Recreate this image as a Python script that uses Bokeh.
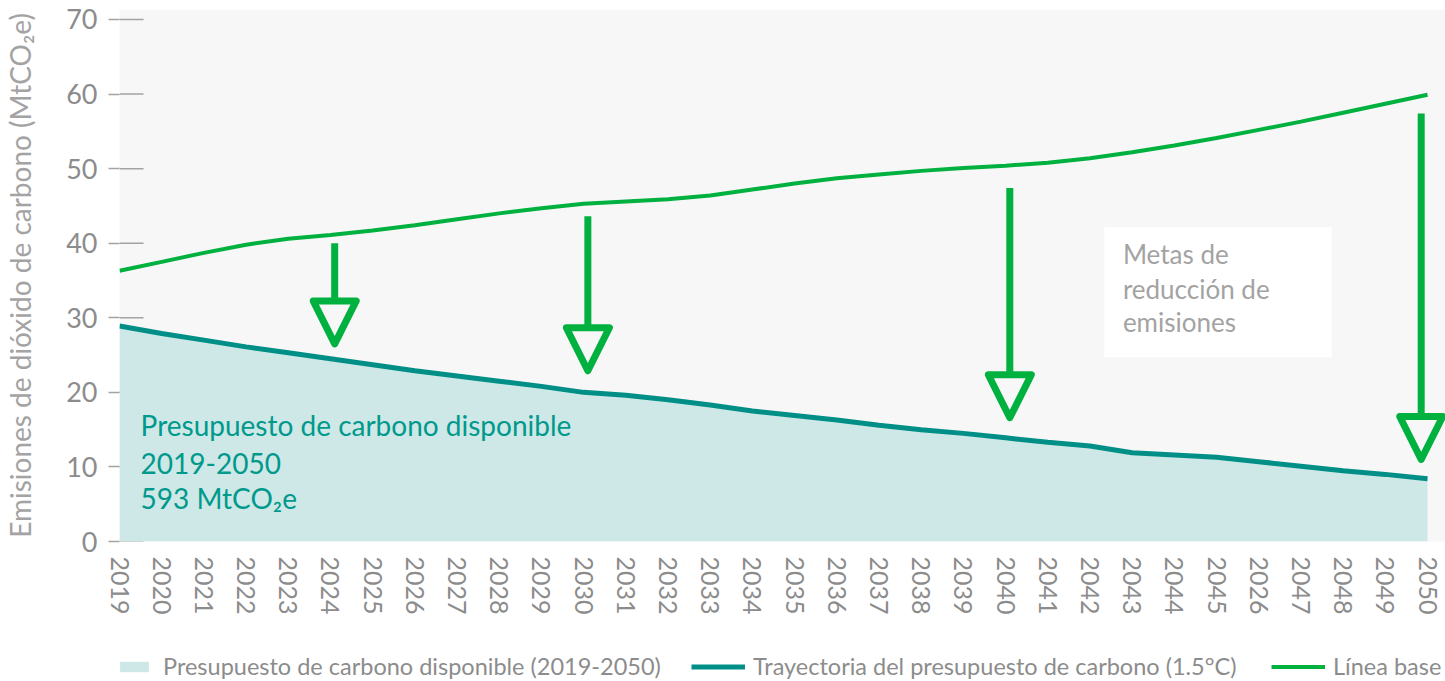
from bokeh.plotting import figure
from bokeh.layouts import column
from bokeh.models import (FixedTicker, Range1d, Legend, LegendItem, Label,
                          BoxAnnotation, Arrow, NormalHead)
from bokeh.embed import file_html
from bokeh.resources import INLINE

# ---------------- data ----------------
years = list(range(2019, 2051))
year_labels = [str(y) for y in years]
year_labels[years.index(2046)] = "2026"   # as printed in the original

linea_base = [36.3, 37.5, 38.7, 39.8, 40.6, 41.1, 41.7, 42.4, 43.2, 44.0,
              44.7, 45.3, 45.6, 45.9, 46.4, 47.2, 48.0, 48.7, 49.2, 49.7,
              50.1, 50.4, 50.8, 51.4, 52.2, 53.1, 54.1, 55.2, 56.3, 57.5,
              58.7, 59.9]

trayectoria = [28.9, 27.9, 27.0, 26.1, 25.3, 24.5, 23.7, 22.9, 22.2, 21.5,
               20.8, 20.0, 19.6, 19.0, 18.3, 17.5, 16.9, 16.3, 15.6, 15.0,
               14.5, 13.9, 13.3, 12.8, 11.9, 11.6, 11.3, 10.7, 10.1, 9.5,
               9.0, 8.4]

arrow_x = [2024.1, 2030.1, 2040.1, 2049.85]
arrow_top = [40.0, 43.6, 47.4, 57.4]
arrow_tip = [26.5, 22.9, 16.6, 11.0]

y_ticks = [0, 10, 20, 30, 40, 50, 60, 70]

legend_labels = ["Presupuesto de carbono disponible (2019-2050)",
                 "Trayectoria del presupuesto de carbono (1.5°C)",
                 "Línea base"]

# ---------------- style ----------------
FONT = "Lato"
GREEN = "#00b140"
TEAL = "#008f86"
TEAL_TEXT = "#00998c"
FILL = "#cde8e7"
BG = "#f7f7f7"
GRAY = "#8c8c8c"
LGRAY = "#a3a3a3"
NAN = float("nan")

p = figure(width=1445, height=650, output_backend="svg", toolbar_location=None,
           x_range=Range1d(2019, 2050.426), y_range=Range1d(0, 71.34),
           min_border_left=116, min_border_right=0, min_border_top=9,
           min_border_bottom=109)
p.outline_line_color = None
p.background_fill_color = BG
p.border_fill_color = "white"
p.xgrid.visible = False
p.ygrid.visible = False

# inner part of y ticks (drawn under the fill)
p.segment(x0=[2019] * len(y_ticks), x1=[2019.57] * len(y_ticks),
          y0=y_ticks, y1=y_ticks, line_color=LGRAY, line_width=1.5)

fill_r = p.varea(x=years, y1=[0] * len(years), y2=trayectoria, fill_color=FILL)
tray_r = p.line(years, trayectoria, line_color=TEAL, line_width=5)
base_r = p.line(years, linea_base, line_color=GREEN, line_width=4)

# arrows
for x, t, b in zip(arrow_x, arrow_top, arrow_tip):
    p.add_layout(Arrow(x_start=x, y_start=t, x_end=x, y_end=b,
                       line_color=GREEN, line_width=7,
                       end=NormalHead(size=43, line_color=GREEN, line_width=7,
                                      fill_color=BG, line_join="round")))

# annotation box
p.add_layout(BoxAnnotation(left=2042.34, right=2047.73, bottom=24.7, top=42.15,
                           fill_color="white", fill_alpha=1.0, line_color=None))
for txt, yy in zip(["Metas de", "reducción de", "emisiones"], [38.58, 33.92, 29.48]):
    p.add_layout(Label(x=2042.78, y=yy, text=txt, text_font=FONT,
                       text_font_size="26px", text_color=LGRAY,
                       text_baseline="middle"))

for txt, yy in zip(["Presupuesto de carbono disponible", "2019-2050", "593 MtCO₂e"],
                   [15.57, 10.51, 5.87]):
    p.add_layout(Label(x=2019.5, y=yy, text=txt, text_font=FONT,
                       text_font_size="28px", text_color=TEAL_TEXT,
                       text_baseline="middle"))

# axes
p.xaxis.ticker = FixedTicker(ticks=years)
p.xaxis.major_label_overrides = {y: l for y, l in zip(years, year_labels)}
p.xaxis.major_label_orientation = "vertical"
p.xaxis.major_label_text_font = FONT
p.xaxis.major_label_text_font_size = "25px"
p.xaxis.major_label_text_color = GRAY
p.xaxis.major_label_standoff = 9
p.xaxis.axis_line_color = None
p.xaxis.major_tick_line_color = None
p.xaxis.minor_tick_line_color = None

p.yaxis.ticker = FixedTicker(ticks=y_ticks)
p.yaxis.major_label_text_font = FONT
p.yaxis.major_label_text_font_size = "27px"
p.yaxis.major_label_text_color = GRAY
p.yaxis.major_label_standoff = 11
p.yaxis.axis_line_color = None
p.yaxis.major_tick_line_color = LGRAY
p.yaxis.major_tick_line_width = 1.5
p.yaxis.major_tick_in = 0
p.yaxis.major_tick_out = 11
p.yaxis.minor_tick_line_color = None
p.yaxis.axis_label = "Emisiones de dióxido de carbono (MtCO₂e)"
p.yaxis.axis_label_text_font = FONT
p.yaxis.axis_label_text_font_size = "28px"
p.yaxis.axis_label_text_font_style = "normal"
p.yaxis.axis_label_text_color = LGRAY
p.yaxis.axis_label_standoff = 26

# ---------------- legend strip ----------------
lg = figure(width=1445, height=31, output_backend="svg", toolbar_location=None,
            x_axis_location=None, y_axis_location=None,
            min_border=0, x_range=Range1d(0, 1), y_range=Range1d(0, 1))
lg.outline_line_color = None
lg.xgrid.visible = False
lg.ygrid.visible = False
# legend proxies (no visible data)
lg_fill = lg.varea(x=[NAN], y1=[NAN], y2=[NAN], fill_color=FILL)
lg_tray = lg.line(x=[NAN], y=[NAN], line_color=TEAL, line_width=5)
lg_base = lg.line(x=[NAN], y=[NAN], line_color=GREEN, line_width=4)

def add_legend(label, rend, x, gw, standoff):
    leg = Legend(items=[LegendItem(label=label, renderers=[rend])],
                 location=(x, 1), orientation="horizontal",
                 glyph_width=gw, glyph_height=13, label_standoff=standoff,
                 padding=0, margin=0, spacing=0,
                 background_fill_alpha=0, border_line_color=None,
                 label_text_font=FONT, label_text_font_size="23.5px",
                 label_text_color=GRAY, label_height=28)
    lg.add_layout(leg, "center")

# frames of the two figures are aligned (left edge at x = 116 px)
add_legend(legend_labels[0], lg_fill, -3, 36, 11)
add_legend(legend_labels[1], lg_tray, 572, 54, 8)
add_legend(legend_labels[2], lg_base, 1152, 54, 8)

open("out.html", "w").write(file_html(column(p, lg, spacing=0), INLINE))
